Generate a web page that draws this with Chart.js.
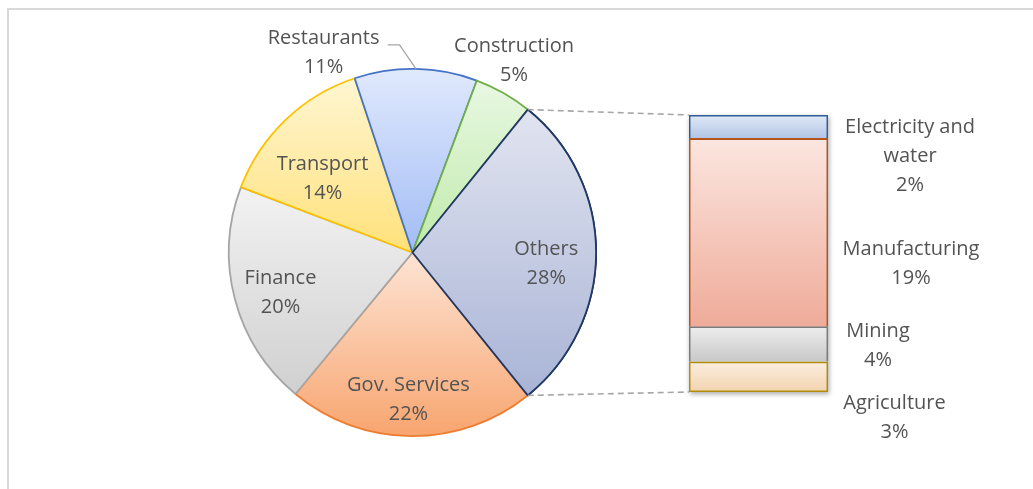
<!DOCTYPE html>
<html><head><meta charset="utf-8">
<script src="https://cdn.jsdelivr.net/npm/chart.js@4.4.1/dist/chart.umd.min.js"></script>
<style>
html,body{margin:0;padding:0;background:#fff;overflow:hidden}
#wrap{position:relative;width:1033px;height:489px;overflow:hidden;background:#fff}
#frame{position:absolute;left:7px;top:8px;width:1100px;height:600px;border:2px solid #d9d9d9;box-sizing:border-box}
canvas{position:absolute;left:0;top:0}
</style></head><body>
<div id="wrap"><div id="frame"></div>
<canvas id="pie" width="1033" height="489"></canvas>
<canvas id="bar" width="1033" height="489"></canvas>
</div>
<script>
// ---- data ----
const pieLabels = ['Others', 'Gov. Services', 'Finance', 'Transport', 'Restaurants', 'Construction'];
const pieValues = [28.4, 21.8, 19.8, 14.1, 10.8, 5.1];
const barLabels = ['Agriculture', 'Mining', 'Manufacturing', 'Electricity and water'];
const barValues = [3.1, 3.6, 19.3, 2.4];

// ---- styles ----
const FONT = '20px "Open Sans", sans-serif';
const TXT = '#535353';
const pieTop = ['#e1e4f0', '#fde4d5', '#f2f2f2', '#fff6d2', '#e0e9fd', '#e8f8e2'];
const pieBot = ['#a9b4d6', '#f8a56f', '#d0d0d0', '#ffe17a', '#a2bcf5', '#c0eaab'];
const pieBorder = ['#203864', '#ed7d31', '#a5a5a5', '#ffc000', '#4472c4', '#70ad47'];
// label placement: angle (deg clockwise from top) and radius fraction
const pieLabelPos = [[93.8, 0.73], [181.6, 0.79], [254, 0.748], [310, 0.64], [336.2, 1.2], [27.7, 1.19]];
const barTop = ['#fbeee1', '#ededed', '#fbe6e0', '#e0e9f6'];
const barBot = ['#f3d3ae', '#c8c8c8', '#efab99', '#b2c5e6'];
const barBorder = ['#b08c0a', '#7a7a7a', '#b4541c', '#2e5f99'];
const barLabelOff = [[66.5, 41], [50, 2], [83, 31.5], [82, 30]];
const barLines = [['Agriculture'], ['Mining'], ['Manufacturing'], ['Electricity and', 'water']];
const LH = 29;

function pct(v){ return Math.round(v) + '%'; }

const pieGrad = {
  id: 'pieGrad',
  beforeDatasetsDraw(chart) {
    const ctx = chart.ctx;
    chart.getDatasetMeta(0).data.forEach((el, i) => {
      const p = el.getProps(['x', 'y', 'startAngle', 'endAngle', 'outerRadius'], true);
      const ys = [p.y, p.y + p.outerRadius * Math.sin(p.startAngle), p.y + p.outerRadius * Math.sin(p.endAngle)];
      for (let k = -3; k <= 3; k++) {
        const a = Math.PI / 2 + k * Math.PI;
        if (a > p.startAngle && a < p.endAngle) ys.push(p.y + p.outerRadius * Math.sin(a));
      }
      const g = ctx.createLinearGradient(0, Math.min(...ys), 0, Math.max(...ys));
      g.addColorStop(0, pieTop[i]); g.addColorStop(1, pieBot[i]);
      if (Object.isFrozen(el.options)) el.options = Object.assign({}, el.options, {backgroundColor: g});
      else el.options.backgroundColor = g;
    });
  },
  afterDatasetsDraw(chart) {
    const ctx = chart.ctx;
    const meta = chart.getDatasetMeta(0);
    const el0 = meta.data[0];
    // the split-out slice is drawn on top, as in the original
    el0.draw(ctx);
    const cx = el0.x, cy = el0.y, R = el0.outerRadius;
    ctx.save();
    ctx.font = FONT; ctx.fillStyle = TXT; ctx.textAlign = 'center'; ctx.textBaseline = 'middle';
    meta.data.forEach((el, i) => {
      const [th, f] = pieLabelPos[i];
      const a = th * Math.PI / 180;
      const x = cx + f * R * Math.sin(a), y = cy - f * R * Math.cos(a) + 2;
      ctx.fillText(pieLabels[i], x, y - LH / 2);
      ctx.fillText(pct(pieValues[i]), x, y + LH / 2);
      if (pieLabels[i] === 'Restaurants') {
        const mid = (el.startAngle + el.endAngle) / 2;
        ctx.save();
        ctx.strokeStyle = '#a6a6a6'; ctx.lineWidth = 1.3;
        ctx.beginPath();
        ctx.moveTo(x + 64, y - 8);
        ctx.lineTo(x + 76, y - 8);
        ctx.lineTo(cx + R * Math.cos(mid), cy + R * Math.sin(mid));
        ctx.stroke();
        ctx.restore();
      }
    });
    ctx.restore();
  }
};

const pieChart = new Chart(document.getElementById('pie'), {
  type: 'pie',
  data: {
    labels: pieLabels,
    datasets: [{
      data: pieValues,
      backgroundColor: pieTop.slice(),
      borderColor: pieBorder,
      borderWidth: 1.8
    }]
  },
  options: {
    responsive: false, animation: false, events: [],
    rotation: 90 - pieValues[0] * 1.8,
    layout: {padding: {left: 228, top: 68, right: 436, bottom: 52}},
    plugins: {legend: {display: false}, tooltip: {enabled: false}}
  },
  plugins: [pieGrad]
});

const barPlug = {
  id: 'barPlug',
  beforeDatasetsDraw(chart) {
    const ctx = chart.ctx;
    const n = chart.data.datasets.length;
    const first = chart.getDatasetMeta(0).data[0];
    const last = chart.getDatasetMeta(n - 1).data[0];
    const left = first.x - first.width / 2, right = first.x + first.width / 2;
    ctx.save();
    ctx.shadowColor = 'rgba(0,0,0,0.35)'; ctx.shadowBlur = 5; ctx.shadowOffsetY = 2; ctx.shadowOffsetX = 1;
    ctx.fillStyle = '#fff';
    ctx.fillRect(left, last.y, right - left, first.base - last.y);
    ctx.restore();
    for (let i = 0; i < n; i++) {
      const el = chart.getDatasetMeta(i).data[0];
      const g = ctx.createLinearGradient(0, el.y, 0, el.base);
      g.addColorStop(0, barTop[i]); g.addColorStop(1, barBot[i]);
      if (Object.isFrozen(el.options)) el.options = Object.assign({}, el.options, {backgroundColor: g});
      else el.options.backgroundColor = g;
    }
  },
  afterDatasetsDraw(chart) {
    const ctx = chart.ctx;
    const n = chart.data.datasets.length;
    ctx.save();
    ctx.font = FONT; ctx.fillStyle = TXT; ctx.textAlign = 'center'; ctx.textBaseline = 'middle';
    for (let i = 0; i < n; i++) {
      const el = chart.getDatasetMeta(i).data[0];
      const right = el.x + el.width / 2;
      const cy = (el.y + el.base) / 2;
      const lines = barLines[i].concat([pct(barValues[i])]);
      const x = right + barLabelOff[i][0], y0 = cy + barLabelOff[i][1] - (lines.length - 1) * LH / 2;
      lines.forEach((t, k) => ctx.fillText(t, x, y0 + k * LH));
    }
    // connector lines
    const first = chart.getDatasetMeta(0).data[0];
    const last = chart.getDatasetMeta(n - 1).data[0];
    const left = first.x - first.width / 2;
    const o = pieChart.getDatasetMeta(0).data[0];
    ctx.strokeStyle = '#a6a6a6'; ctx.lineWidth = 1.6; ctx.setLineDash([6, 4]);
    ctx.beginPath();
    ctx.moveTo(o.x + o.outerRadius * Math.cos(o.startAngle), o.y + o.outerRadius * Math.sin(o.startAngle));
    ctx.lineTo(left, last.y);
    ctx.moveTo(o.x + o.outerRadius * Math.cos(o.endAngle), o.y + o.outerRadius * Math.sin(o.endAngle));
    ctx.lineTo(left, first.base);
    ctx.stroke();
    ctx.restore();
  }
};

new Chart(document.getElementById('bar'), {
  type: 'bar',
  data: {
    labels: ['Others'],
    datasets: barLabels.map((l, i) => ({
      label: l,
      data: [barValues[i]],
      backgroundColor: barTop[i],
      borderColor: barBorder[i],
      borderWidth: {top: 1.8, left: 1.8, right: 1.8, bottom: i === 0 ? 1.8 : 0},
      borderSkipped: false,
      categoryPercentage: 1,
      barPercentage: 1
    }))
  },
  options: {
    responsive: false, animation: false, events: [],
    layout: {padding: {left: 689, right: 205, top: 115, bottom: 97}},
    plugins: {legend: {display: false}, tooltip: {enabled: false}},
    scales: {
      x: {display: false, stacked: true},
      y: {display: false, stacked: true, min: 0, max: pieValues[0]}
    }
  },
  plugins: [barPlug]
});
</script>
</body></html>
